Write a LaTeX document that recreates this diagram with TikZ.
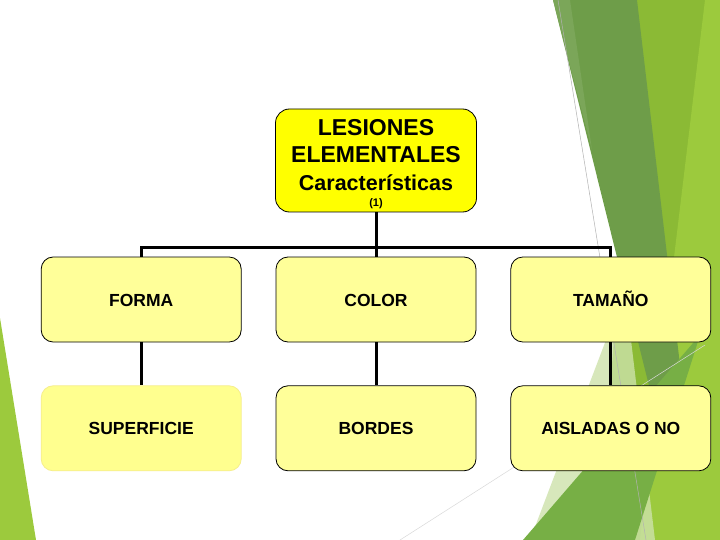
\documentclass[tikz,border=0pt]{standalone}
\usepackage{fontspec}
\setmainfont{Liberation Sans}
\usetikzlibrary{positioning}
\definecolor{rootfill}{RGB}{255,255,0}
\definecolor{boxfill}{RGB}{255,255,153}
\definecolor{softedge}{RGB}{246,238,140}
\definecolor{bright}{RGB}{139,186,53}
\definecolor{lime}{RGB}{156,202,61}
\definecolor{band}{RGB}{110,157,73}
\definecolor{sliver}{RGB}{123,166,89}
\definecolor{leaf}{RGB}{119,175,69}
\definecolor{pale}{RGB}{205,226,170}
\tikzset{
  rootbox/.style={draw=black,fill=rootfill,rounded corners=14pt,line width=0.8pt,
    minimum width=201pt,minimum height=103pt,inner sep=0pt,align=center,
    font=\bfseries\fontsize{23}{26.6}\selectfont},
  itembox/.style={draw=black,fill=boxfill,rounded corners=12pt,line width=0.8pt,
    minimum width=200pt,minimum height=85pt,inner sep=0pt,
    text height=13pt,text depth=0pt,
    font=\bfseries\fontsize{17.5}{21}\selectfont},
  link/.style={line width=3pt},
  thin/.style={line width=0.5pt},
}

\begin{document}
\begin{tikzpicture}[x=1pt,y=-1pt]
  \useasboundingbox (0,0) rectangle (720,540);
  \fill[white] (0,0) rectangle (720,540);
  % facets
  \fill[bright] (637,0) -- (720,0) -- (720,540) -- (600,540) -- cycle;
  \fill[lime] (705,0) -- (720,0) -- (720,540) -- (640,540) -- cycle;
  \fill[band] (553,0) -- (637,0) -- (690,450) -- (665,450) -- cycle;
  \fill[sliver] (553,0) -- (570,0) -- (592,150) -- cycle;
  \fill[pale,opacity=0.8] (625,290) -- (530,540) -- (655,540) -- cycle;
  \fill[leaf] (523,540) -- (635,540) -- (700,335) -- cycle;
  \draw[gray!60,thin] (558,0) -- (646,540);
  \draw[gray!30,thin] (400,540) -- (705,345);
  \fill[lime] (0,318) -- (0,540) -- (36,540) -- cycle;

  \node[rootbox] (root) at (376,160.5) {\rule{0pt}{24pt}LESIONES\\ELEMENTALES\\[1pt]
    {\fontsize{21.5}{22}\selectfont Características}\\[-10pt]
    {\fontsize{11}{12}\selectfont (1)}};

  \node[itembox] (color) at (376,299.5) {COLOR};
  \node[itembox,left=34pt of color] (forma) {FORMA};
  \node[itembox,right=34pt of color] (tamano) {TAMAÑO};
  \node[itembox,below=43pt of color] (bordes) {BORDES};
  \node[itembox,draw=softedge,fill=boxfill!85!rootfill!90,below=43pt of forma] (superficie) {SUPERFICIE};
  \node[itembox,below=43pt of tamano] (aislados) {AISLADAS O NO};

  \draw[link] (root.south) -- (color.north);
  \draw[link] (forma.north) -- ++(0,-9) -| (tamano.north);
  \draw[link] (forma) -- (superficie);
  \draw[link] (color) -- (bordes);
  \draw[link] (tamano) -- (aislados);
\end{tikzpicture}
\end{document}
